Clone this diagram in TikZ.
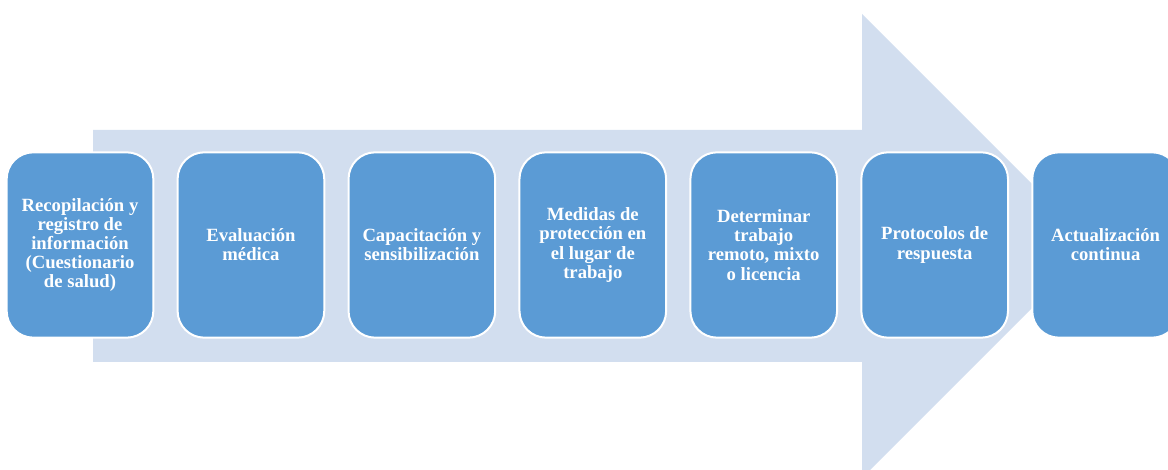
\documentclass[tikz,border=0pt]{standalone}
\usepackage{fontspec}
\setmainfont{Liberation Serif}
\usetikzlibrary{positioning}
\definecolor{stepblue}{RGB}{91,155,213}
\definecolor{arrowblue}{RGB}{210,222,239}
\tikzset{
  stepbox/.style={rectangle, rounded corners=20pt, fill=stepblue, draw=white,
    line width=1.5pt, outer sep=0pt, inner sep=2pt,
    minimum width=110pt, minimum height=139pt,
    text=white, align=center, font=\bfseries\fontsize{14}{14.4}\selectfont}
}
\begin{document}
\begin{tikzpicture}[x=0.75pt,y=0.75pt]
        \useasboundingbox (0,0) rectangle (1168,470);
        % big arrow behind the steps
        \fill[arrowblue] (93,340) -- (862,340) -- (862,456) -- (1094,224)
          -- (862,-8) -- (862,108) -- (93,108) -- cycle;
        % steps
        \node[stepbox] (s1) at (80,225) {Recopilación y\\registro de\\información\\(Cuestionario\\de salud)};
        \node[stepbox, right=18.2pt of s1] (s2) {Evaluación\\médica};
        \node[stepbox, right=18.2pt of s2] (s3) {Capacitación y\\sensibilización};
        \node[stepbox, right=18.2pt of s3] (s4) {Medidas de\\protección en\\el lugar de\\trabajo};
        \node[stepbox, right=18.2pt of s4] (s5) {Determinar\\trabajo\\remoto, mixto\\o licencia};
        \node[stepbox, right=18.2pt of s5] (s6) {Protocolos de\\respuesta};
        \node[stepbox, right=18.2pt of s6] (s7) {Actualización\\continua};
      \end{tikzpicture}
\end{document}
